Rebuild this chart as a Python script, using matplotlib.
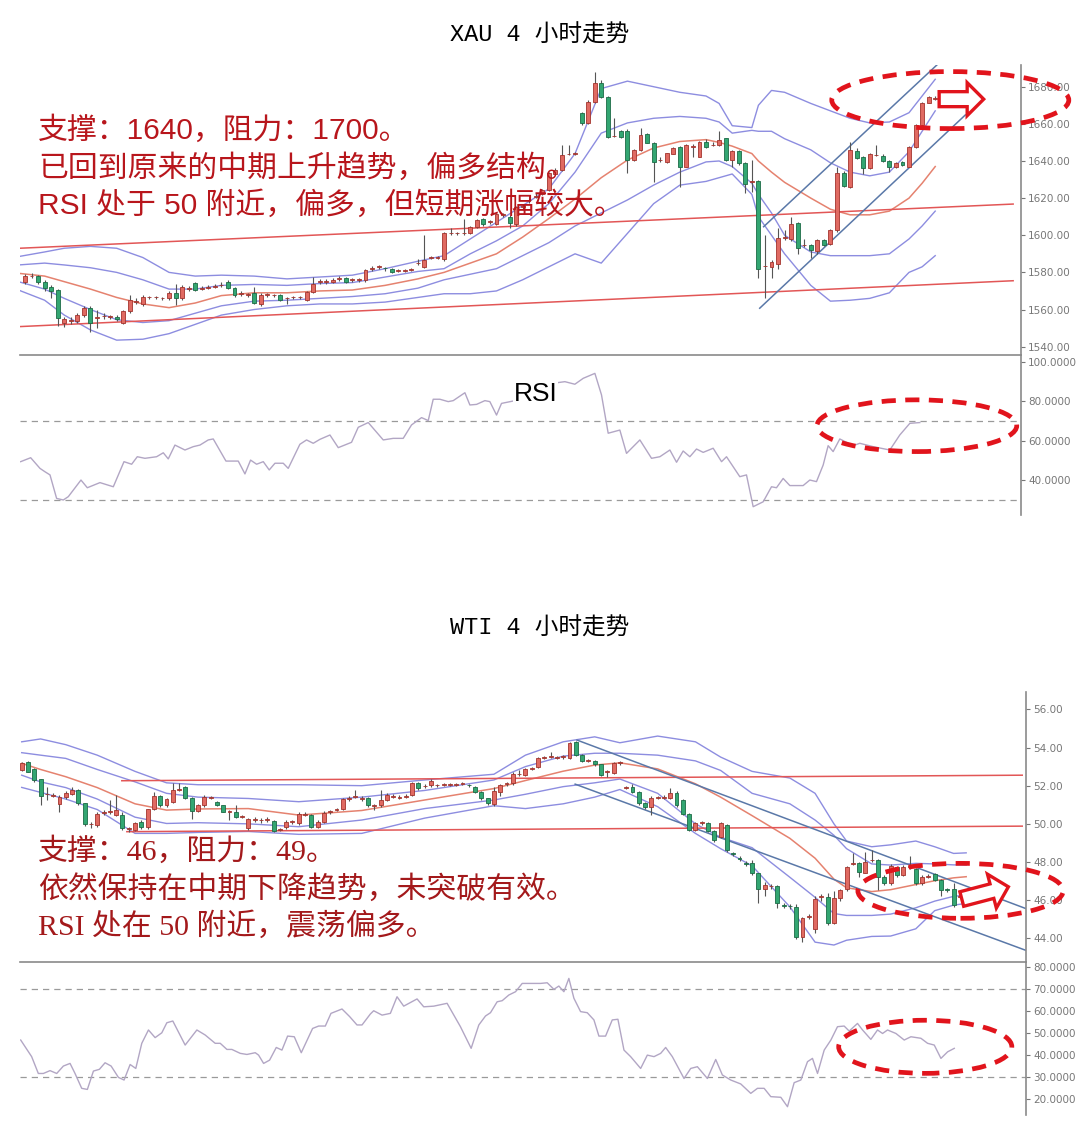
import numpy as np
import matplotlib
matplotlib.use("Agg")
import matplotlib.pyplot as plt
from matplotlib.patches import Ellipse, Polygon
from matplotlib.transforms import IdentityTransform

W, H = 1080, 1126

# ---------------- XAU 4h candles ----------------
xau_open = [1575, 1577.8, 1578, 1575, 1572, 1570.5, 1553, 1554, 1554, 1557,
            1561, 1555.5, 1556.3, 1556, 1556, 1553, 1559, 1564, 1563, 1566.5,
            1566.5, 1566, 1566, 1569, 1566, 1571, 1574.5, 1571.2, 1571.6, 1572.2,
            1573, 1575, 1571.8, 1568.4, 1568, 1569, 1563, 1568, 1567.6, 1568,
            1566, 1566.5, 1566.5, 1565, 1569.6, 1575, 1575, 1575, 1576.5, 1576.8,
            1575.8, 1575.8, 1575.9, 1582, 1583, 1582.5, 1582, 1581, 1581, 1581.3,
            1584.8, 1583, 1588, 1588, 1587, 1601, 1601, 1601, 1601, 1604.6,
            1608.6, 1607.1, 1606, 1611, 1610, 1606, 1615.2, 1618.8, 1620.8, 1622.2,
            1624.4, 1633, 1635, 1643.6, 1643.8, 1665.7, 1660.3, 1672, 1681.8, 1674.6,
            1653.3, 1656, 1656.3, 1640.5, 1646, 1654.5, 1649.5, 1640.3, 1639.6, 1644,
            1647.4, 1637, 1647.8, 1642.4, 1650.4, 1648.4, 1648.6, 1652.2, 1640.5, 1645.6,
            1639, 1628.7, 1629.4, 1583.3, 1583, 1584.5, 1598.5, 1597.8, 1606.4, 1594.6,
            1594.8, 1591.7, 1597.5, 1595.3, 1602.8, 1633.7, 1626.2, 1645.6, 1642, 1636,
            1643, 1642.7, 1640.2, 1636.6, 1639.6, 1637, 1647.4, 1659.4, 1671.4, 1673.6]
xau_close = [1578, 1578.3, 1575, 1571.5, 1570, 1555.3, 1555, 1554.5, 1557, 1561,
             1552.6, 1556, 1556.7, 1556.4, 1555, 1559, 1565, 1564.5, 1567, 1566.9,
             1566.9, 1566.4, 1569, 1566, 1572, 1571.5, 1570.5, 1571.6, 1572, 1572.6,
             1573.4, 1571.8, 1567.8, 1568.8, 1568.4, 1563.7, 1568, 1568.4, 1568, 1565,
             1566.4, 1566.9, 1566.9, 1569.6, 1574, 1575.4, 1575.4, 1576, 1576.9, 1575,
             1576.2, 1576.2, 1581.3, 1582.4, 1583.4, 1582.1, 1580, 1581.4, 1581.4, 1581.7,
             1585.2, 1586.7, 1588.4, 1588.4, 1601, 1601.4, 1601.4, 1601.4, 1604.6, 1608,
             1606, 1607.5, 1611.5, 1611.4, 1606.4, 1615, 1615.6, 1619.2, 1621.2, 1624.4,
             1633.4, 1635, 1643.2, 1644, 1644.2, 1660.3, 1672, 1681.8, 1674.6, 1653.1,
             1653.7, 1653, 1640.5, 1646, 1654, 1649.9, 1639.6, 1640.7, 1644.1, 1646.8,
             1637, 1648.6, 1648.2, 1650.4, 1647.4, 1648.8, 1651.3, 1640.5, 1645.6, 1638.8,
             1627.6, 1629.1, 1581.7, 1583.7, 1585.8, 1598.4, 1598.9, 1605.9, 1593, 1595,
             1592, 1597.5, 1594.8, 1602.8, 1633.4, 1626.5, 1645.9, 1641.4, 1636, 1643.8,
             1643.4, 1640.2, 1637, 1638.8, 1637.8, 1647.4, 1659.4, 1671.4, 1674.3, 1674]
xau_high = [1579, 1579.5, 1578.5, 1576, 1573, 1571, 1556, 1556, 1558, 1562,
            1562, 1560, 1558, 1557, 1557, 1560, 1568, 1566, 1568, 1567.5,
            1567.5, 1567, 1570, 1574, 1573, 1572.5, 1575, 1572.5, 1573, 1573.5,
            1575, 1576, 1572, 1570, 1569, 1572.3, 1569, 1569, 1568.5, 1568.5,
            1567, 1567.5, 1567.5, 1570, 1577.7, 1576.5, 1576.5, 1577, 1578, 1577.5,
            1577, 1577, 1582, 1583.5, 1584, 1583, 1582.5, 1582, 1582, 1582.5,
            1587, 1600, 1589, 1589, 1602, 1604, 1602, 1609, 1605, 1609,
            1609.5, 1608, 1612, 1612, 1611, 1616, 1617, 1620, 1622.5, 1625,
            1634, 1636, 1648.6, 1648.6, 1645, 1666.5, 1673, 1688, 1683.6, 1675,
            1663, 1656.5, 1657, 1646.5, 1657.6, 1655, 1650, 1642, 1644.5, 1647.5,
            1648, 1649, 1649, 1651, 1652, 1650, 1656, 1652.5, 1646, 1646,
            1639.5, 1640.5, 1630, 1600.2, 1586.5, 1604, 1603, 1610, 1607, 1598,
            1595.5, 1598, 1598, 1603.5, 1637, 1634.5, 1650, 1647, 1642.5, 1644.5,
            1648.6, 1643.5, 1640.5, 1639.5, 1640, 1648, 1660, 1672, 1675, 1675]
xau_low = [1574, 1577, 1574, 1570, 1566, 1551, 1550.5, 1552, 1553, 1556,
           1548, 1550, 1555, 1555, 1554, 1552, 1558, 1563, 1562, 1565.5,
           1565.5, 1565, 1565, 1562.5, 1565, 1570, 1570, 1570.5, 1571, 1571.5,
           1572, 1571, 1567, 1567.5, 1567, 1563, 1562, 1567, 1567, 1564.5,
           1563, 1565.5, 1565.5, 1564.5, 1569, 1574, 1574, 1574.5, 1575.5, 1574.5,
           1575, 1575, 1575, 1581, 1582, 1581, 1579.5, 1580, 1580, 1580.5,
           1584, 1582.5, 1587, 1587, 1586, 1600, 1600, 1600, 1600.5, 1604,
           1605, 1606, 1605.5, 1610, 1604, 1605, 1614, 1617.5, 1620, 1621.5,
           1624, 1632.5, 1634.5, 1643, 1643, 1659.5, 1660, 1671.5, 1674, 1652.5,
           1653, 1652.5, 1633.4, 1640, 1645.5, 1649.5, 1628.9, 1639.5, 1639, 1643.5,
           1626.2, 1636.5, 1642, 1642, 1647, 1648, 1648, 1640, 1637, 1638,
           1622.6, 1623.5, 1576.8, 1566, 1577, 1582, 1597.5, 1597, 1590, 1593.5,
           1588, 1590, 1594, 1595, 1602, 1626, 1625.5, 1641, 1633, 1635.5,
           1642.5, 1639.5, 1634, 1636, 1637.3, 1636.5, 1647, 1659, 1671, 1673]

# XAU band lines and mid line, sampled at candle positions
xau_band_x = [-1, 3, 6, 10, 14, 18, 22, 26, 30, 35, 40, 45, 50, 55, 60, 64, 68, 72, 76, 80,
              84, 88, 92, 96, 100, 104, 106, 108, 111, 112, 114, 116, 120, 123, 126, 129,
              132, 135, 137, 139]
xau_ma = [1579.5, 1578, 1575, 1571, 1566.5, 1563, 1561, 1563.5, 1567.5, 1569, 1569, 1570,
          1570.5, 1573, 1576.5, 1580, 1585, 1590, 1599, 1609, 1619.5, 1631, 1640.5, 1647,
          1650.5, 1651.5, 1650, 1648, 1644, 1640, 1634, 1628.5, 1620, 1614, 1611, 1611,
          1613, 1620, 1628, 1637]
xau_up2 = [1588.5, 1591, 1593, 1594, 1593, 1588, 1580, 1578, 1578.5, 1578, 1576.5, 1577.5,
           1578.5, 1582, 1586, 1589, 1598, 1607, 1616, 1625, 1644, 1679, 1683, 1680, 1677,
           1675, 1671, 1659, 1658, 1670, 1678, 1677, 1671, 1667, 1663, 1660.5, 1661, 1666,
           1675, 1684]
xau_up1 = [1584, 1585, 1584, 1582.5, 1580, 1576, 1571, 1571, 1573, 1573.5, 1573, 1574,
           1574.5, 1577.5, 1580.5, 1582, 1590, 1597, 1605, 1617, 1634, 1655, 1660.5, 1663,
           1664, 1663, 1661, 1655, 1656.5, 1656, 1656, 1652, 1646, 1639, 1634, 1632, 1634,
           1645, 1656, 1667]
xau_lo1 = [1575, 1571, 1566, 1560, 1554.5, 1553, 1554, 1558, 1562, 1564.5, 1565, 1566,
           1567, 1568.5, 1571.5, 1576, 1579, 1582, 1589, 1596, 1605, 1612, 1619, 1627, 1634,
           1639.5, 1640, 1637, 1628, 1622, 1612, 1600, 1591, 1589, 1589, 1589, 1590, 1598,
           1605, 1613]
xau_lo2 = [1570.5, 1565, 1557, 1549, 1543.5, 1544, 1547, 1552, 1557, 1560, 1562, 1563,
           1563, 1564, 1566.5, 1568.5, 1568.5, 1570, 1576, 1583, 1590, 1585, 1601, 1617,
           1627, 1629, 1631, 1633, 1622, 1610, 1600, 1590, 1573, 1564.5, 1565, 1566, 1569,
           1580, 1583, 1589]

# XAU drawn lines: (x0, x1), (y0, y1)
xau_res_line = ([-0.8, 150.9], [1593.0, 1616.8])
xau_sup_line = ([-0.8, 150.9], [1550.8, 1575.5])
xau_chan_top = ([112.8, 139.4], [1604.6, 1692.2])
xau_chan_bot = ([112.2, 143.6], [1560.7, 1664.8])

# XAU RSI
xau_rsi_x = [-0.66, 0.87, 2.29, 3.05, 3.82, 4.83, 5.85, 6.62, 8.55, 9.52, 11.45, 13.49, 15.12,
             16.29, 17.15, 18.32, 20.1, 21.12, 21.88, 22.9, 24.43, 25.7, 26.72, 27.99, 28.75,
             30.69, 32.57, 33.59, 34.45, 35.37, 36.39, 37.3, 38.17, 39.44, 40.2, 41.98, 43.0,
             44.02, 45.04, 46.57, 47.84, 49.87, 50.89, 52.42, 54.71, 56.23, 57.76, 59.03, 60.56,
             61.58, 62.34, 63.36, 64.63, 65.4, 67.18, 67.94, 68.96, 70.23, 70.99, 72.01, 72.77,
             74.55, 80.67, 82.45, 83.97, 85.25, 87.03, 88.04, 89.06, 90.84, 91.86, 93.9, 95.68,
             96.95, 98.48, 99.5, 100.51, 101.53, 102.55, 103.57, 105.09, 106.37, 107.13, 109.16,
             110.18, 111.2, 112.73, 114.0, 114.76, 115.78, 116.8, 118.83, 119.85, 120.87, 121.89,
             122.65, 123.41, 124.43, 126.47, 127.48, 129.52, 132.07, 133.59, 135.12, 136.65]
xau_rsi = [49.4, 51.4, 46.0, 44.3, 42.7, 30.8, 30.0, 31.7, 40.1, 36.2, 38.8, 36.7, 49.4, 48.1,
           51.9, 51.1, 51.9, 53.9, 50.8, 57.8, 55.3, 57.0, 57.8, 60.4, 60.9, 49.7, 49.7, 43.2,
           50.2, 48.1, 49.4, 45.2, 48.6, 48.6, 46.0, 58.2, 60.4, 58.7, 60.7, 62.9, 56.5, 59.2,
           66.8, 69.2, 60.4, 61.2, 61.2, 68.0, 71.7, 70.2, 81.0, 81.0, 79.8, 80.3, 84.3, 78.1,
           78.4, 80.3, 79.8, 73.0, 78.9, 80.1, 89.1, 89.9, 88.6, 91.6, 94.1, 83.2, 63.8, 65.4,
           53.6, 60.4, 51.1, 51.9, 55.3, 49.1, 54.8, 51.9, 55.8, 54.1, 56.2, 49.4, 51.9, 41.8,
           42.7, 26.6, 29.1, 36.7, 36.2, 40.9, 37.3, 37.3, 40.1, 39.3, 47.7, 57.5, 54.5, 60.9,
           57.5, 58.7, 57.0, 55.3, 62.9, 68.8, 69.2]

# ---------------- WTI 4h candles ----------------
wti_open = [52.82, 53.25, 52.90, 52.33, 51.54, 51.48, 51.03, 51.40, 51.56, 51.77,
            51.07, 49.97, 49.93, 50.55, 50.60, 50.46, 50.46, 49.74, 49.67, 50.11,
            49.81, 50.76, 51.45, 50.98, 51.15, 51.78, 51.91, 51.38, 50.69, 50.98,
            51.36, 51.16, 50.98, 50.61, 50.63, 50.35, 49.76, 50.21, 50.18, 50.21,
            50.16, 49.69, 49.81, 50.09, 50.02, 50.49, 50.46, 49.85, 50.11, 50.61,
            50.74, 50.76, 51.31, 51.43, 51.31, 51.33, 50.96, 50.98, 51.24, 51.43,
            51.36, 51.43, 51.51, 52.15, 51.96, 52.03, 52.01, 52.06, 52.06, 52.06,
            52.10, 52.05, 51.94, 51.68, 51.33, 51.04, 51.68, 52.10, 52.12, 52.59,
            52.56, 52.88, 53.00, 53.46, 53.49, 53.46, 53.49, 53.43, 54.30, 53.60,
            53.32, 53.31, 53.13, 52.71, 52.64, 53.18, 51.89, 51.94, 51.68, 51.10,
            50.90, 51.36, 51.38, 51.33, 51.63, 51.25, 50.51, 49.67, 50.04, 50.06,
            49.64, 49.32, 49.93, 48.47, 48.21, 47.95, 47.93, 47.40, 46.56, 46.72,
            46.74, 45.76, 45.71, 45.65, 44.05, 45.11, 44.47, 46.16, 46.18, 44.82,
            46.09, 46.56, 47.91, 47.93, 47.44, 48.08, 48.10, 47.23, 46.88, 47.75,
            47.31, 47.73, 47.66, 46.88, 47.24, 47.37, 47.05, 46.58, 46.56, 46.16]
wti_close = [53.20, 52.73, 52.29, 51.45, 51.58, 51.52, 51.42, 51.63, 51.77, 51.07,
             49.99, 50.01, 50.51, 50.60, 50.66, 50.72, 49.76, 49.78, 50.06, 49.81,
             50.76, 51.45, 50.98, 51.28, 51.80, 51.82, 51.38, 50.69, 50.98, 51.42,
             51.40, 50.98, 50.63, 50.65, 50.37, 50.39, 50.23, 50.25, 50.22, 50.25,
             49.64, 49.73, 50.11, 50.13, 50.51, 50.53, 49.85, 50.11, 50.58, 50.65,
             50.78, 51.28, 51.35, 51.47, 51.35, 50.98, 51.00, 51.24, 51.50, 51.47,
             51.40, 51.47, 52.15, 51.86, 52.00, 52.26, 52.05, 52.10, 52.10, 52.10,
             52.14, 52.01, 51.68, 51.33, 51.07, 51.73, 52.03, 52.14, 52.61, 52.63,
             52.85, 52.92, 53.43, 53.50, 53.53, 53.50, 53.53, 54.25, 53.60, 53.31,
             53.36, 53.13, 52.56, 52.75, 53.20, 53.22, 51.93, 51.68, 51.07, 50.86,
             51.38, 51.40, 51.42, 51.63, 50.98, 50.51, 49.67, 50.06, 50.08, 49.64,
             49.15, 50.02, 48.62, 48.43, 48.17, 47.91, 47.40, 46.56, 46.79, 46.76,
             45.83, 45.72, 45.67, 44.05, 45.04, 45.15, 46.04, 46.20, 44.78, 46.14,
             46.53, 47.75, 47.95, 47.49, 48.01, 48.12, 47.23, 46.88, 47.79, 47.31,
             47.75, 47.77, 46.88, 47.23, 47.28, 47.05, 46.53, 46.54, 45.74, 46.20]
wti_high = [53.25, 53.30, 52.95, 52.35, 51.94, 51.60, 51.50, 51.70, 51.95, 51.85,
            51.10, 50.10, 50.60, 50.70, 51.24, 51.51, 50.60, 49.85, 50.10, 50.20,
            50.80, 51.68, 51.50, 51.35, 52.12, 52.12, 52.00, 51.40, 51.05, 51.50,
            51.45, 51.20, 51.00, 50.70, 50.98, 50.45, 50.30, 50.35, 50.30, 50.35,
            50.20, 49.80, 50.20, 50.20, 50.60, 50.60, 50.50, 50.20, 50.65, 50.72,
            50.85, 51.35, 51.45, 51.77, 51.45, 51.40, 51.05, 51.77, 51.60, 51.55,
            51.50, 51.55, 52.20, 52.20, 52.10, 52.35, 52.10, 52.15, 52.15, 52.15,
            52.20, 52.10, 52.00, 51.70, 51.35, 51.94, 52.10, 52.20, 52.70, 52.82,
            52.95, 53.00, 53.50, 53.55, 53.78, 53.55, 53.60, 54.30, 54.35, 53.65,
            53.42, 53.35, 53.15, 52.80, 53.25, 53.30, 52.00, 52.10, 51.70, 51.15,
            51.45, 51.45, 51.50, 51.86, 51.70, 51.30, 50.55, 50.10, 50.15, 50.10,
            49.70, 50.10, 50.00, 48.55, 48.30, 48.05, 48.10, 47.45, 46.95, 46.85,
            46.80, 45.85, 45.80, 45.80, 45.10, 45.30, 46.20, 46.30, 46.40, 46.50,
            46.60, 47.80, 48.45, 48.00, 48.53, 48.62, 48.15, 47.30, 47.90, 47.80,
            47.85, 48.31, 47.70, 47.30, 47.35, 47.45, 47.10, 46.65, 46.90, 46.25]
wti_low = [52.75, 52.70, 52.20, 50.98, 51.25, 51.40, 50.63, 51.30, 51.50, 51.00,
           49.90, 49.76, 49.85, 50.45, 50.50, 50.40, 49.70, 49.59, 49.60, 49.75,
           49.75, 50.70, 50.90, 50.90, 51.10, 51.70, 51.30, 50.28, 50.60, 50.90,
           51.30, 50.95, 50.60, 50.20, 50.30, 50.30, 49.70, 50.10, 50.05, 50.10,
           49.55, 49.60, 49.75, 50.00, 49.95, 50.40, 49.80, 49.80, 50.05, 50.50,
           50.65, 50.70, 51.20, 51.35, 51.20, 50.90, 50.72, 50.90, 51.20, 51.35,
           51.30, 51.35, 51.45, 51.80, 51.90, 51.95, 51.95, 52.00, 52.00, 52.00,
           52.05, 51.95, 51.60, 51.25, 51.00, 50.95, 51.45, 52.00, 52.05, 52.50,
           52.50, 52.80, 52.95, 53.40, 53.45, 53.40, 53.42, 53.40, 53.55, 53.25,
           53.25, 53.05, 52.50, 52.47, 52.60, 53.10, 51.85, 51.60, 51.00, 50.80,
           50.46, 51.30, 51.30, 51.30, 50.90, 50.45, 49.60, 49.60, 49.95, 49.55,
           49.05, 49.25, 48.50, 48.30, 48.05, 47.80, 47.30, 45.83, 46.20, 46.60,
           45.60, 45.60, 45.55, 43.95, 43.82, 45.00, 44.30, 45.95, 44.70, 44.75,
           45.95, 46.50, 47.85, 47.20, 47.40, 48.00, 46.53, 46.80, 46.80, 47.20,
           47.25, 47.65, 46.80, 46.80, 47.15, 47.00, 46.20, 46.45, 45.65, 46.10]

wti_band_x = [0, 3, 7, 12, 18, 23, 28, 36, 44, 54, 64, 75, 80, 86, 91, 95, 101, 107, 111, 116,
              122, 126, 129, 131, 135, 138, 142, 145, 148, 150]
wti_ma = [53.17, 52.85, 52.47, 51.9, 51.05, 50.72, 50.78, 50.8, 50.46, 50.7, 51.25, 51.85, 52.27,
          52.76, 53.08, 53.2, 52.88, 52.1, 51.4, 50.43, 49.24, 48.2, 47.1, 46.65, 46.45, 46.55,
          46.82, 47.02, 47.17, 47.23]
wti_up2 = [54.3, 54.45, 54.15, 53.6, 52.75, 52.15, 52.05, 52.05, 52.05, 52.0, 52.3, 52.6, 53.6,
           54.3, 54.56, 54.25, 54.6, 54.3, 53.5, 52.75, 52.4, 51.6, 50.0, 49.1, 48.8, 48.9, 49.1,
           48.8, 48.45, 48.48]
wti_up1 = [53.73, 53.6, 53.43, 52.85, 52.2, 51.6, 51.4, 51.33, 51.16, 51.4, 51.75, 52.3, 53.0,
           53.55, 53.7, 53.7, 53.6, 53.3, 52.8, 51.6, 51.05, 50.2, 49.4, 48.7, 47.9, 47.84, 47.93,
           47.9, 47.85, 47.84]
wti_lo1 = [52.55, 52.2, 51.9, 51.3, 50.35, 50.02, 50.06, 50.0, 49.85, 50.2, 50.8, 51.25, 51.55,
           51.95, 52.15, 52.35, 51.6, 50.0, 49.3, 48.75, 47.2, 46.15, 45.3, 45.2, 45.2, 45.27,
           45.6, 45.95, 46.2, 46.27]
wti_lo2 = [51.91, 51.65, 51.3, 50.75, 49.5, 49.5, 49.55, 49.6, 49.45, 49.5, 50.3, 50.95, 50.8,
           51.05, 51.4, 51.8, 50.9, 49.5, 48.7, 47.8, 45.65, 43.8, 43.65, 43.9, 44.1, 44.12, 44.5,
           45.45, 45.74, 45.83]

wti_res_line = ([15.9, 158.9], [52.26, 52.55])
wti_sup_line = ([16.7, 158.9], [49.59, 49.88])
wti_chan_top = ([88.2, 159.4], [54.39, 45.57])
wti_chan_bot = ([87.9, 159.4], [52.08, 43.38])

wti_rsi_x = [-0.16, 1.58, 2.64, 3.44, 4.5, 5.56, 6.62, 7.68, 8.47, 9.53, 10.43, 11.39, 12.34,
             13.24, 14.2, 15.36, 16.26, 17.22, 18.12, 19.07, 20.13, 21.19, 22.25, 23.05, 24.0,
             25.96, 27.82, 29.14, 30.73, 31.53, 32.59, 33.38, 34.71, 35.77, 37.09, 37.62, 38.42,
             39.37, 40.43, 41.33, 42.23, 43.29, 44.4, 46.2, 47.16, 48.22, 49.12, 50.87, 52.09,
             53.25, 54.05, 55.37, 55.9, 57.23, 58.55, 59.61, 60.67, 62.79, 63.85, 65.44, 67.56,
             69.68, 71.38, 72.6, 73.66, 74.45, 75.51, 76.31, 77.37, 78.43, 79.49, 82.4, 83.46,
             84.52, 85.31, 86.11, 86.9, 87.7, 88.76, 89.82, 90.88, 91.67, 92.73, 93.79, 94.69,
             95.65, 96.71, 98.3, 99.36, 100.42, 101.48, 102.27, 103.33, 105.19, 106.25, 107.31,
             108.9, 110.22, 111.28, 112.61, 114.2, 115.79, 116.85, 117.91, 118.97, 120.56,
             121.62, 122.68, 123.74, 124.8, 125.59, 126.39, 127.45, 128.51, 129.56, 130.62,
             131.42, 132.74, 133.54, 134.86, 135.92, 136.72, 137.51, 138.84, 140.16, 141.22,
             142.81, 143.87, 144.93, 145.99, 147.05, 148.11]
wti_rsi = [46.8, 39.2, 31.5, 31.5, 32.8, 31.5, 34.9, 36.1, 31.5, 24.7, 24.2, 32.6, 33.4, 36.4,
           34.9, 29.7, 28.5, 35.6, 33.8, 45.3, 51.4, 47.9, 50.1, 54.7, 55.5, 44.5, 51.4, 49.1,
           45.3, 45.3, 42.5, 42.5, 40.7, 40.2, 41.0, 39.9, 36.1, 37.6, 43.4, 42.2, 48.6, 48.3,
           41.0, 52.1, 53.2, 53.2, 59.0, 61.0, 57.5, 53.7, 53.7, 58.7, 60.2, 58.2, 59.0, 66.6,
           62.3, 65.6, 62.0, 62.3, 63.6, 52.9, 43.0, 53.7, 57.8, 59.3, 64.3, 64.8, 67.4, 68.9,
           72.7, 72.7, 73.0, 70.0, 71.5, 68.9, 75.0, 65.9, 59.8, 59.3, 56.0, 48.6, 48.6, 56.0,
           56.3, 42.2, 39.2, 33.8, 39.9, 39.2, 40.7, 43.4, 39.2, 29.2, 33.8, 34.6, 29.2, 37.9,
           30.8, 28.5, 26.7, 22.4, 24.7, 24.7, 20.9, 20.6, 16.3, 27.3, 28.5, 36.9, 38.4, 31.5,
           42.2, 46.8, 52.9, 53.2, 50.9, 54.4, 51.4, 47.1, 51.4, 49.8, 51.4, 49.8, 46.8, 48.3,
           47.6, 45.3, 44.5, 38.4, 41.4, 43.0]

xau_notes = ["支撑：1640，阻力：1700。", "已回到原来的中期上升趋势，偏多结构。",
             "RSI 处于 50 附近，偏多，但短期涨幅较大。"]
wti_notes = ["支撑：46，阻力：49。", "依然保持在中期下降趋势，未突破有效。",
             "RSI 处在 50 附近，震荡偏多。"]

# ---------------- styling ----------------
UP_FILL, UP_EDGE = "#e06a62", "#a3332d"
DN_FILL, DN_EDGE = "#33a672", "#1c6b46"
WICK = "#555555"
BAND = "#8d8de0"
MID = "#e5826f"
TREND = "#e25656"
CHAN = "#5a78a8"
RSI_C = "#b2a6c4"
DASH_C = "#9a9a9a"
AXIS_C = "#8a8a8a"
MARK = "#e1141c"
CJK = "Noto Sans CJK SC"


def px_axes(fig, left, top, right, bottom):
    return fig.add_axes([left / W, 1 - bottom / H, (right - left) / W, (bottom - top) / H])


def style(ax, ticks, fmt, sep=False):
    for s in ["top", "left", "bottom"]:
        ax.spines[s].set_visible(False)
    ax.spines["right"].set_color(AXIS_C)
    ax.spines["right"].set_linewidth(1.2)
    if sep:
        ax.spines["bottom"].set_visible(True)
        ax.spines["bottom"].set_color(AXIS_C)
        ax.spines["bottom"].set_linewidth(1.2)
    ax.yaxis.tick_right()
    ax.set_yticks(ticks)
    ax.set_yticklabels([fmt % t for t in ticks])
    ax.tick_params(axis="y", colors="#777777", labelsize=7.5, length=3, width=0.8, pad=2)
    ax.set_xticks([])
    ax.patch.set_alpha(0)


def candles(ax, o, c, h, l, width=0.6):
    o, c, h, l = map(np.asarray, (o, c, h, l))
    x = np.arange(len(o))
    up = c >= o
    ax.vlines(x, l, h, color=WICK, lw=0.8, zorder=3)
    ax.bar(x[up], (c - o)[up], bottom=o[up], width=width, color=UP_FILL,
           edgecolor=UP_EDGE, lw=0.6, zorder=4)
    ax.bar(x[~up], (o - c)[~up], bottom=c[~up], width=width, color=DN_FILL,
           edgecolor=DN_EDGE, lw=0.6, zorder=4)


def bands(ax, x, up2, up1, mid, lo1, lo2):
    for arr in (up2, up1, lo1, lo2):
        ax.plot(x, arr, color=BAND, lw=1, zorder=2)
    ax.plot(x, mid, color=MID, lw=1.1, zorder=2)


def rsi_panel(ax, x, v):
    ax.plot(x, v, color=RSI_C, lw=1, zorder=2)
    for lev in (30, 70):
        ax.axhline(lev, color=DASH_C, lw=0.9, ls=(0, (5, 4)), zorder=1)


def ring(ax, cx, cy, w, h):
    ax.add_patch(Ellipse((cx, cy), w, h, fill=False, edgecolor=MARK, lw=3.4,
                         ls=(0, (3, 2)), zorder=9, clip_on=False))


def hollow_arrow(ax, tail, tip, body, head, head_len):
    p0 = ax.transData.transform(tail)
    p1 = ax.transData.transform(tip)
    d = p1 - p0
    u = d / np.hypot(*d)
    n = np.array([-u[1], u[0]])
    b = p1 - u * head_len
    pts = [p0 + n * body, b + n * body, b + n * head, p1,
           b - n * head, b - n * body, p0 - n * body]
    ax.add_patch(Polygon(pts, closed=True, transform=IdentityTransform(),
                         facecolor="white", edgecolor=MARK, lw=2.4, zorder=10,
                         clip_on=False))


def ftext(fig, x, y, s, **kw):
    fig.text(x / W, 1 - y / H, s, **kw)


fig = plt.figure(figsize=(W / 100, H / 100), dpi=100)
fig.patch.set_facecolor("white")

# ================= XAU =================
ftext(fig, 540, 35, "XAU 4 小时走势", ha="center", va="center", fontsize=17,
      family=["Liberation Mono", CJK])

ax1 = px_axes(fig, 20, 65, 1021, 355)
candles(ax1, xau_open, xau_close, xau_high, xau_low)
bands(ax1, xau_band_x, xau_up2, xau_up1, xau_ma, xau_lo1, xau_lo2)
for xs, ys in (xau_res_line, xau_sup_line):
    ax1.plot(xs, ys, color=TREND, lw=1.1, zorder=2)
for xs, ys in (xau_chan_top, xau_chan_bot):
    ax1.plot(xs, ys, color=CHAN, lw=1.1, zorder=2)
ax1.set_xlim(-0.76, 152.1)
ax1.set_ylim(1535.5, 1691.7)
style(ax1, np.arange(1540, 1681, 20), "%.2f", sep=True)
ring(ax1, 141.3, 1672.8, 36.2, 30.7)
hollow_arrow(ax1, (139.6, 1673.3), (146.4, 1673.3), 7.5, 16.5, 16.5)

ax2 = px_axes(fig, 20, 355, 1021, 515)
rsi_panel(ax2, xau_rsi_x, xau_rsi)
ax2.set_xlim(-0.76, 152.1)
ax2.set_ylim(22.4, 103.4)
style(ax2, [40, 60, 80, 100], "%.4f")
ax2.text(78.0, 83.7, "RSI", ha="center", va="center", fontsize=19,
         family="Liberation Sans", color="black", zorder=5,
         bbox=dict(facecolor="white", edgecolor="none", pad=0.5))
ring(ax2, 136.2, 67.6, 30.5, 26.2)

for i, s in enumerate(xau_notes):
    ftext(fig, 38, 131 + 37 * i, s, ha="left", va="center", fontsize=21.5,
          color="#b8161c", family=["Liberation Sans", CJK], zorder=6)

# ================= WTI =================
ftext(fig, 540, 628, "WTI 4 小时走势", ha="center", va="center", fontsize=17,
      family=["Liberation Mono", CJK])

ax3 = px_axes(fig, 20, 692, 1026, 962)
candles(ax3, wti_open, wti_close, wti_high, wti_low, width=0.62)
bands(ax3, wti_band_x, wti_up2, wti_up1, wti_ma, wti_lo1, wti_lo2)
for xs, ys in (wti_res_line, wti_sup_line):
    ax3.plot(xs, ys, color=TREND, lw=1.1, zorder=2)
for xs, ys in (wti_chan_top, wti_chan_bot):
    ax3.plot(xs, ys, color=CHAN, lw=1.1, zorder=2)
ax3.set_xlim(-0.27, 159.5)
ax3.set_ylim(42.76, 56.91)
style(ax3, np.arange(44, 57, 2), "%.2f", sep=True)
ring(ax3, 149.1, 46.49, 32.6, 2.88)
hollow_arrow(ax3, (149.3, 46.06), (156.7, 46.70), 7.5, 17.5, 17)

ax4 = px_axes(fig, 20, 962, 1026, 1115)
rsi_panel(ax4, wti_rsi_x, wti_rsi)
ax4.set_xlim(-0.27, 159.5)
ax4.set_ylim(12.5, 82.5)
style(ax4, [20, 30, 40, 50, 60, 70, 80], "%.4f")
ring(ax4, 143.5, 43.7, 27.5, 24.3)

for i, s in enumerate(wti_notes):
    ftext(fig, 38, 852 + 37 * i, s, ha="left", va="center", fontsize=21.5,
          color="#a3191b", family=["Liberation Serif", CJK], zorder=6)

fig.savefig("out.png", dpi=100, facecolor="white")
